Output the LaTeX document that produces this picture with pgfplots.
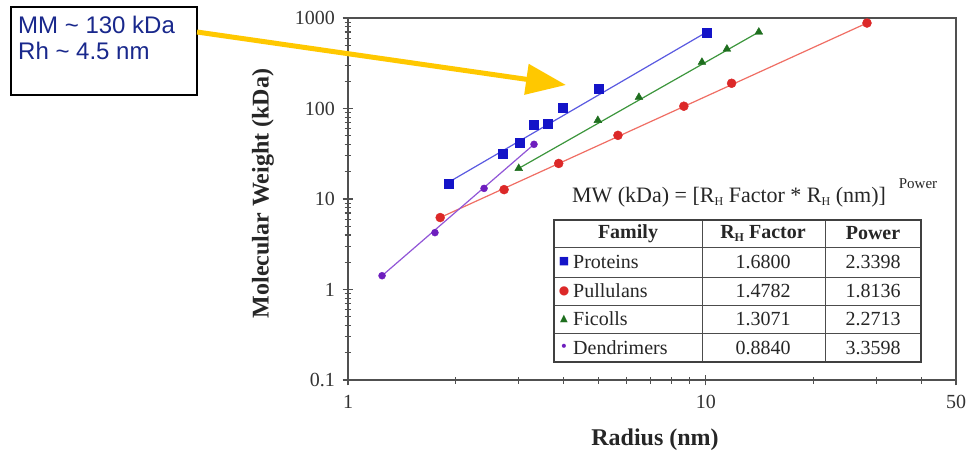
\documentclass[border=0pt]{standalone}
\usepackage{fontspec}
\setmainfont{Liberation Serif}
\newfontfamily\arialfont{Liberation Sans}
\newfontfamily\symfont{DejaVu Sans}
\usepackage{pgfplots}
\pgfplotsset{compat=1.18}
\usetikzlibrary{arrows.meta}
\definecolor{axisgray}{RGB}{80,80,80}
\definecolor{bluemark}{RGB}{20,20,200}
\definecolor{blueline}{RGB}{90,90,225}
\definecolor{redmark}{RGB}{220,40,40}
\definecolor{redline}{RGB}{240,110,100}
\definecolor{greenmark}{RGB}{30,110,30}
\definecolor{greenline}{RGB}{60,150,60}
\definecolor{purplemark}{RGB}{110,30,190}
\definecolor{purpleline}{RGB}{145,85,215}
\definecolor{arrowgold}{RGB}{255,200,0}
\definecolor{navytext}{RGB}{25,40,140}
\newcommand{\subH}{\raisebox{-0.35ex}{\fontsize{12}{12}\selectfont H}}
\begin{document}
\begin{tikzpicture}
\path[use as bounding box, fill=white] (0pt,0pt) rectangle (967pt,-455pt);
\begin{axis}[
  at={(348pt,-380pt)}, anchor=south west, scale only axis,
  width=608pt, height=362pt,
  xmode=log, ymode=log,
  xmin=1, xmax=50, ymin=0.1, ymax=1000,
  xtick={1,10,50}, xticklabels={1,10,50},
  minor xtick={2,3,4,5,6,7,8,9,20,30,40},
  ytick={0.1,1,10,100,1000}, yticklabels={0.1,1,10,100,1000},
  minor ytick={0.2,0.3,0.4,0.5,0.6,0.7,0.8,0.9,2,3,4,5,6,7,8,9,20,30,40,50,60,70,80,90,200,300,400,500,600,700,800,900},
  tick pos=left,
  tick align=center,
  major tick length=11pt, minor tick length=7pt,
  axis line style={draw=axisgray, line width=1.5pt},
  tick style={draw=axisgray, line width=1.1pt},
  /pgf/number format/assume math mode=true,
  ticklabel style={font=\fontsize{20}{24}\selectfont, text=black!80},
  xticklabel style={yshift=-6pt},
  yticklabel style={xshift=-4pt},
  xlabel={Radius (nm)}, ylabel={Molecular Weight (kDa)},
  label style={font=\bfseries\fontsize{24}{28}\selectfont, text=black!85},
  xlabel style={at={(axis description cs:0.505,-0.166)}, anchor=center},
  ylabel style={at={(axis description cs:-0.14,0.515)}, anchor=center},
]
% fitted lines
\addplot[blueline, line width=1.2pt] coordinates {(1.915,15.4) (10.06,700)};
\addplot[redline, line width=1.2pt] coordinates {(1.81,6.24) (28.2,880)};
\addplot[greenline, line width=1.2pt] coordinates {(3.00,21.8) (14.06,700)};
\addplot[purpleline, line width=1.2pt] coordinates {(1.245,1.42) (3.31,40.2)};
% Proteins
\addplot[only marks, mark=square*, mark size=4.5pt, color=bluemark] coordinates {
(1.915,14.9) (2.71,31.9) (3.02,42.3) (3.31,67) (3.62,68.7) (3.99,103) (5.02,167) (10.06,682)};
% Pullulans
\addplot[only marks, mark=*, mark size=4.5pt, color=redmark] coordinates {
(1.81,6.24) (2.73,12.7) (3.88,24.7) (5.68,50.5) (8.68,106) (11.8,190) (28.2,880)};
% Ficolls
\addplot[only marks, mark=triangle*, mark size=4.5pt, color=greenmark] coordinates {
(3.00,21.8) (4.99,74) (6.50,133) (9.75,325) (11.45,454) (14.06,700)};
% Dendrimers
\addplot[only marks, mark=*, mark size=3.5pt, color=purplemark] coordinates {
(1.245,1.42) (1.75,4.25) (2.40,13.1) (3.31,40.2)};
\end{axis}
% equation
\node[font=\fontsize{22}{26}\selectfont, text=black!85, anchor=center] at (729pt,-197pt)
  {MW (kDa) = [R\subH{} Factor * R\subH{} (nm)]};
\node[font=\fontsize{15}{17}\selectfont, text=black!85, anchor=center] at (918pt,-184pt) {Power};
% table
\fill[white] (554pt,-220pt) rectangle (921pt,-362pt);
\draw[black!70, line width=1pt]
  (554pt,-247pt) -- (921pt,-247pt)
  (554pt,-277pt) -- (921pt,-277pt)
  (554pt,-305pt) -- (921pt,-305pt)
  (554pt,-333pt) -- (921pt,-333pt)
  (702pt,-220pt) -- (702pt,-362pt)
  (825pt,-220pt) -- (825pt,-362pt);
\draw[black!75, line width=1.6pt] (554pt,-220pt) rectangle (921pt,-362pt);
\begin{scope}[every node/.style={font=\fontsize{20}{24}\selectfont, text=black!85, inner sep=0pt}]
\node[font=\bfseries\fontsize{20}{24}\selectfont] at (628pt,-233.5pt) {Family};
\node[font=\bfseries\fontsize{20}{24}\selectfont] at (763pt,-233.5pt) {R\subH{} Factor};
\node[font=\bfseries\fontsize{20}{24}\selectfont] at (873pt,-233.5pt) {Power};
\node[anchor=center, text=bluemark, font=\symfont\fontsize{11}{12}\selectfont] at (564pt,-262pt) {■};
\node[anchor=west] at (573pt,-262pt) {Proteins};
\node[anchor=center, text=redmark, font=\symfont\fontsize{12}{12}\selectfont] at (564pt,-291pt) {●};
\node[anchor=west] at (573pt,-291pt) {Pullulans};
\node[anchor=center, text=greenmark, font=\symfont\fontsize{10}{12}\selectfont] at (564pt,-319pt) {▲};
\node[anchor=west] at (573pt,-319pt) {Ficolls};
\node[anchor=center, text=purplemark, font=\symfont\fontsize{14}{14}\selectfont] at (564pt,-347.5pt) {•};
\node[anchor=west] at (573pt,-347.5pt) {Dendrimers};
\node at (763pt,-262pt) {1.6800};
\node at (873pt,-262pt) {2.3398};
\node at (763pt,-291pt) {1.4782};
\node at (873pt,-291pt) {1.8136};
\node at (763pt,-319pt) {1.3071};
\node at (873pt,-319pt) {2.2713};
\node at (763pt,-347.5pt) {0.8840};
\node at (873pt,-347.5pt) {3.3598};
\end{scope}
% annotation box
\draw[black, line width=2pt, fill=white] (11pt,-7pt) rectangle (197pt,-95pt);
\node[anchor=base west, inner sep=0pt, text=navytext, font=\arialfont\fontsize{24}{28}\selectfont] at (18pt,-34pt) {MM \textasciitilde{} 130 kDa};
\node[anchor=base west, inner sep=0pt, text=navytext, font=\arialfont\fontsize{24}{28}\selectfont] at (18pt,-59pt) {Rh \textasciitilde{} 4.5 nm};
% arrow
\draw[arrowgold, line width=5pt, -{Triangle[length=40pt,width=30pt]}] (197pt,-32pt) -- (566pt,-85pt);
\end{tikzpicture}
\end{document}
